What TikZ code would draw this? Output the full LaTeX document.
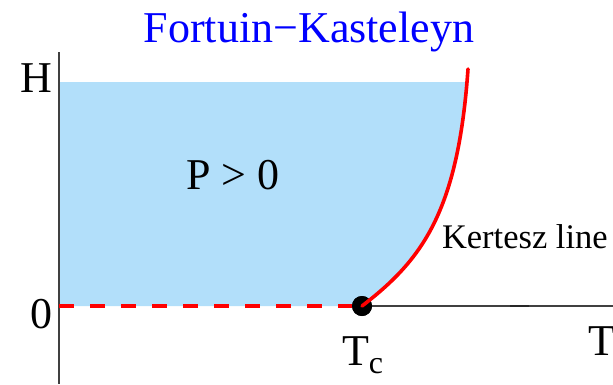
\documentclass[tikz,border=0pt]{standalone}
\usepackage{fontspec}
\setmainfont{Liberation Serif}
\begin{document}
\begin{tikzpicture}[x=1pt,y=-1pt,
  lbl/.style={inner sep=0pt,outer sep=0pt,font=\fontsize{44}{44}\selectfont},
  axisline/.style={draw=black!75,line width=1.3pt},
  redline/.style={draw=red,line width=3.6pt},
  dashred/.style={draw=red,line width=3.6pt,dash pattern=on 15pt off 16pt},
  regionfill/.style={fill={rgb,255:red,178;green,223;blue,250}}]
\useasboundingbox (0,0) rectangle (613,384);
% region
\begin{scope}
\clip (59,82) rectangle (613,306);
\fill[regionfill] (59,306) -- (362,306) .. controls (422,260) and (458,212) .. (468,69) -- (59,69) -- cycle;
\end{scope}
% axes
\coordinate (ytop) at (59,52);
\coordinate (ybot) at (59,384);
\coordinate (xleft) at (59,306);
\coordinate (xright) at (613,306);
\coordinate (tickA) at (510,306);
\coordinate (tickB) at (529,306);
\coordinate (kltop) at (468,69);
\draw[axisline] (ytop) -- (ybot);
% dot
\node[circle,fill=black,minimum size=20pt,inner sep=0pt] (tc) at (362,306) {};
\draw[axisline] (tc.center) -- (xright);
\draw[draw=black!85,line width=2pt] (tickA) -- (tickB);
% dashed line
\draw[dashred] (xleft) -- (tc.west);
\node[circle,fill=black,minimum size=20pt,inner sep=0pt] at (tc) {};
% Kertesz line
\draw[redline,line cap=round] (tc.center) .. controls (422,260) and (458,212) .. (kltop);
% labels
\node[lbl,text=blue,anchor=base] (title) at (309,42) {Fortuin−Kasteleyn};
\node[lbl,anchor=base east] (H) at (52,92) {H};
\node[lbl,anchor=base east] (zero) at (52,328) {0};
\node[lbl,anchor=base] (P) at (233,189) {P > 0};
\node[lbl,anchor=base west,font=\fontsize{34.5}{34.5}\selectfont] (kl) at (442,248) {Kertesz line};
\node[lbl,anchor=base west] (Tc) at (342,365) {T\raisebox{-8pt}{\fontsize{32}{32}\selectfont c}};
\node[lbl,anchor=base west] (T) at (588,355) {T};
\end{tikzpicture}
\end{document}
